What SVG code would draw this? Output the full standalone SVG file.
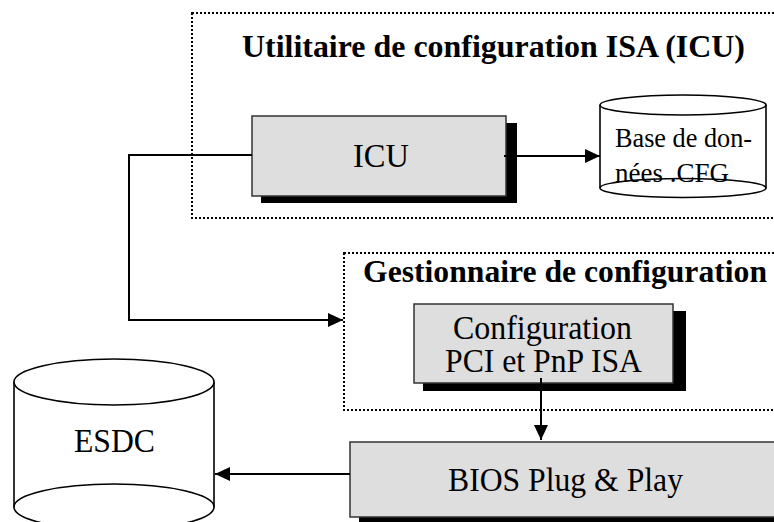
<svg xmlns="http://www.w3.org/2000/svg" width="774" height="522" viewBox="0 0 774 522">
<style>
.dot{fill:none;stroke:#000;stroke-width:2;stroke-dasharray:2 2}
.box{fill:#dedede;stroke:#333;stroke-width:1.5}
.sh{fill:#000}
.cyl{fill:#fff;stroke:#000;stroke-width:1.6}
.ln{fill:none;stroke:#000;stroke-width:2}
.t{font-family:"Liberation Serif","Times New Roman",serif;fill:#000}
.b{font-weight:bold}
</style>
<defs>
<marker id="ah" markerUnits="userSpaceOnUse" markerWidth="16" markerHeight="14" refX="15" refY="7" orient="auto">
<path d="M0,0 L15,7 L0,14 Z" fill="#000"/>
</marker>
</defs>
<rect x="0" y="0" width="774" height="522" fill="#fff"/>
<g id="group-icu">
<rect class="dot" x="192" y="13" width="600" height="205"/>
<text class="t b" x="242" y="57" font-size="32" textLength="503" lengthAdjust="spacingAndGlyphs">Utilitaire de configuration ISA (ICU)</text>
</g>
<g id="group-gestionnaire">
<rect class="dot" x="344" y="253" width="450" height="157"/>
<text class="t b" x="363" y="282" font-size="31.5" textLength="404" lengthAdjust="spacingAndGlyphs">Gestionnaire de configuration</text>
</g>
<g id="node-icu">
<rect class="sh" x="261" y="123" width="256" height="80"/>
<rect class="box" x="252" y="116" width="254" height="80"/>
<text class="t" x="353" y="167" font-size="34" textLength="56" lengthAdjust="spacingAndGlyphs">ICU</text>
</g>
<g id="node-cfgdb">
<path d="M600,105 L600,188 L766,188 L766,105 Z" fill="#fff"/>
<ellipse class="cyl" cx="683" cy="188" rx="83" ry="9.5"/>
<line x1="600" y1="105" x2="600" y2="188" stroke="#000" stroke-width="1.6"/>
<line x1="766" y1="105" x2="766" y2="188" stroke="#000" stroke-width="1.6"/>
<ellipse class="cyl" cx="683" cy="105" rx="83" ry="10"/>
<text class="t" x="615" y="147" font-size="28" textLength="137" lengthAdjust="spacingAndGlyphs">Base de don-</text>
<text class="t" x="615" y="182" font-size="28" textLength="114" lengthAdjust="spacingAndGlyphs">nées .CFG</text>
</g>
<g id="node-config">
<rect class="sh" x="423" y="311" width="263" height="80"/>
<rect class="box" x="414" y="304" width="259" height="79"/>
<text class="t" x="453" y="339" font-size="33" textLength="179" lengthAdjust="spacingAndGlyphs">Configuration</text>
<text class="t" x="445" y="372" font-size="33" textLength="197" lengthAdjust="spacingAndGlyphs">PCI et PnP ISA</text>
</g>
<g id="node-bios">
<rect class="sh" x="359" y="449" width="430" height="80"/>
<rect class="box" x="350" y="442" width="430" height="75"/>
<text class="t" x="448" y="491" font-size="34" textLength="235" lengthAdjust="spacingAndGlyphs">BIOS Plug &amp; Play</text>
</g>
<g id="node-esdc">
<path d="M14,382 L14,507 L214,507 L214,382 Z" fill="#fff"/>
<ellipse class="cyl" cx="114" cy="507" rx="100" ry="23"/>
<line x1="14" y1="382" x2="14" y2="507" stroke="#000" stroke-width="1.6"/>
<line x1="214" y1="382" x2="214" y2="507" stroke="#000" stroke-width="1.6"/>
<ellipse class="cyl" cx="114" cy="382" rx="100" ry="23"/>
<text class="t" x="74" y="452" font-size="34" textLength="81" lengthAdjust="spacingAndGlyphs">ESDC</text>
</g>
<g id="connectors">
<polyline class="ln" points="252,155 129,155 129,320 343,320" marker-end="url(#ah)"/>
<line class="ln" x1="504" y1="156" x2="600" y2="156" marker-end="url(#ah)"/>
<line class="ln" x1="541" y1="378" x2="541" y2="440" marker-end="url(#ah)"/>
<line class="ln" x1="350" y1="474" x2="215" y2="474" marker-end="url(#ah)"/>
</g>
</svg>
